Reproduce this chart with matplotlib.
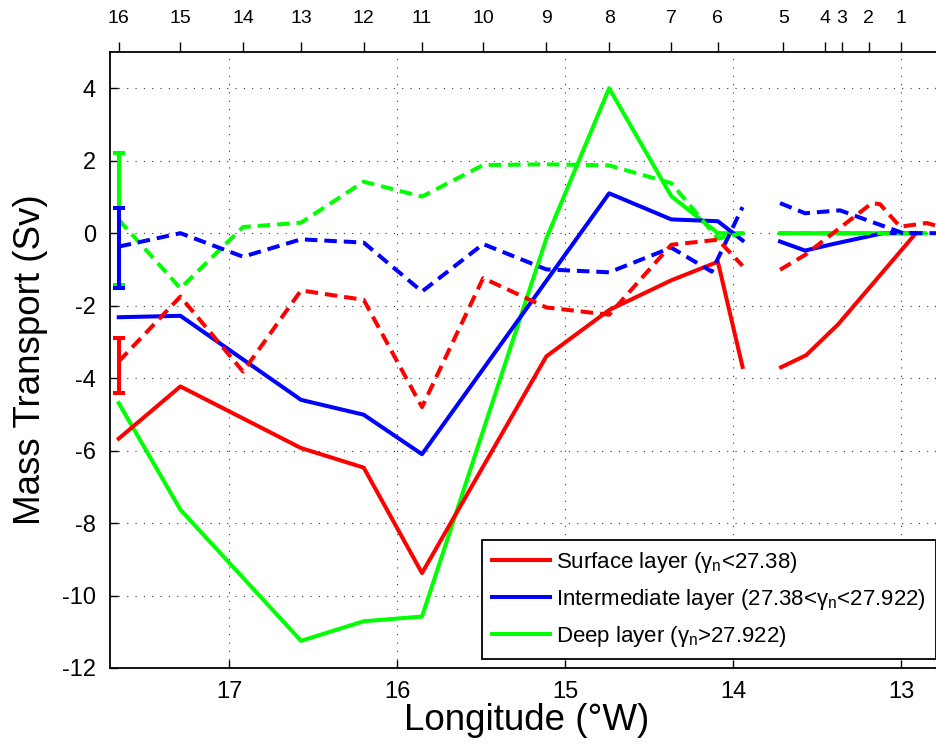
import numpy as np
import matplotlib
matplotlib.use("Agg")
import matplotlib.pyplot as plt
from matplotlib.lines import Line2D

plt.rcParams["font.family"] = ["Liberation Sans", "DejaVu Sans"]
plt.rcParams["mathtext.fontset"] = "custom"
plt.rcParams["mathtext.rm"] = "Liberation Sans"
plt.rcParams["mathtext.it"] = "Liberation Sans"
plt.rcParams["mathtext.bf"] = "Liberation Sans:bold"
plt.rcParams["lines.scale_dashes"] = False
plt.rcParams["axes.unicode_minus"] = False

nan = np.nan

# ---- station positions (top axis) ----
station_lon = [17.656, 17.289, 16.916, 16.571, 16.198, 15.851, 15.487, 15.111,
               14.737, 14.367, 14.090, 13.701, 13.455, 13.353, 13.193, 12.999]
station_num = [16, 15, 14, 13, 12, 11, 10, 9, 8, 7, 6, 5, 4, 3, 2, 1]

# ---- surface layer ----
surf_lon = [17.656, 17.289, 16.571, 16.198, 15.851, 15.111, 14.737, 14.367,
            14.090, 13.943, nan, 13.714, 13.565, 13.375, 12.911]
surf_total = [-5.67, -4.23, -5.93, -6.47, -9.38, -3.40, -2.12, -1.30,
              -0.79, -3.69, nan, -3.70, -3.37, -2.52, 0.0]

surf_d_lon = [17.656, 17.289, 16.916, 16.571, 16.198, 15.851, 15.487, 15.111,
              14.737, 14.367, 14.090, 13.943, nan, 13.720, 13.571, 13.173,
              13.125, 13.006, 12.847, 12.786]
surf_dashed = [-3.54, -1.75, -3.82, -1.58, -1.84, -4.80, -1.24, -2.05,
               -2.25, -0.32, -0.18, -0.90, nan, -1.01, -0.60, 0.83,
               0.80, 0.18, 0.28, 0.20]

# ---- intermediate layer ----
int_lon = [17.656, 17.289, 16.571, 16.198, 15.851, 14.737, 14.367, 14.090,
           13.943, nan, 13.720, 13.571, 13.405, 13.107, 12.911]
int_total = [-2.32, -2.28, -4.60, -5.01, -6.10, 1.10, 0.38, 0.33,
             -0.20, nan, -0.23, -0.48, -0.30, 0.0, 0.0]

int_d_lon = [17.656, 17.289, 16.916, 16.571, 16.198, 15.851, 15.487, 15.111,
             14.737, 14.367, 14.127, 13.943, nan, 13.720, 13.571, 13.363,
             12.988, 12.750]
int_dashed = [-0.37, 0.0, -0.65, -0.17, -0.26, -1.61, -0.30, -1.00,
              -1.08, -0.40, -1.06, 0.72, nan, 0.83, 0.55, 0.63,
              0.0, 0.0]

# ---- deep layer ----
deep_lon = [17.656, 17.289, 16.571, 16.198, 15.851, 15.111, 14.737, 14.367,
            14.090, 13.943, nan, 13.720, 12.857]
deep_total = [-4.69, -7.63, -11.25, -10.71, -10.58, -0.15, 4.00, 1.02,
              0.0, 0.0, nan, 0.0, 0.0]

deep_d_lon = [17.656, 17.289, 16.916, 16.571, 16.198, 15.851, 15.487, 15.111,
              14.737, 14.367, 14.090, 13.943, nan, 13.720, 12.857]
deep_dashed = [0.37, -1.52, 0.17, 0.29, 1.42, 1.01, 1.88, 1.90,
               1.87, 1.38, -0.15, 0.0, nan, 0.0, 0.0]

# ---- uncertainty bars at the western end (deep, intermediate, surface) ----
err_lon = 17.656
err_center = [0.39, -0.405, -3.655]
err_half = [1.82, 1.095, 0.755]

RED, BLUE, GREEN = "#ff0000", "#0000ff", "#00ff00"
LW = 2.9
DASH = (9.0, 5.0)

fig = plt.figure(figsize=(9.37, 7.46), dpi=100)
W, H = 937.0, 746.0
ax = fig.add_axes([110 / W, (H - 668) / H, (943 - 110) / W, (668 - 52) / H])

# solid lines
ax.plot(deep_lon, deep_total, color=GREEN, lw=LW, zorder=3)
ax.plot(int_lon, int_total, color=BLUE, lw=LW, zorder=3.1)
ax.plot(surf_lon, surf_total, color=RED, lw=LW, zorder=3.2)

# dashed lines
ax.plot(deep_d_lon, deep_dashed, color=GREEN, lw=LW, dashes=DASH, zorder=3.3)
ax.plot(int_d_lon, int_dashed, color=BLUE, lw=LW, dashes=DASH, zorder=3.4)
ax.plot(surf_d_lon, surf_dashed, color=RED, lw=LW, dashes=DASH, zorder=3.5)

# error bars
for k, (c, h, col) in enumerate(zip(err_center, err_half, [GREEN, BLUE, RED])):
    ax.errorbar([err_lon], [c], yerr=[h], fmt="none", ecolor=col,
                elinewidth=LW, capsize=4.5, capthick=LW, zorder=4 + 0.1 * k)

ax.set_xlim(17.708, 12.75)
ax.set_ylim(-12, 5)
ax.set_xticks([17, 16, 15, 14, 13])
ax.set_yticks(np.arange(-12, 5, 2))
ax.tick_params(direction="in", length=6, width=1.0, labelsize=17,
               top=True, right=True, pad=9)
ax.tick_params(axis="y", pad=10)
for s in ax.spines.values():
    s.set_linewidth(1.3)

ax.grid(True, color="#333333", linewidth=0.8, linestyle=(0, (0.8, 5.2)))
ax.set_axisbelow(True)

ax.set_xlabel("Longitude (°W)", fontsize=26.5, labelpad=0)
ax.set_ylabel("Mass Transport (Sv)", fontsize=26.5, labelpad=10)

# station numbers along the top
top = ax.twiny()
top.set_xlim(ax.get_xlim())
top.set_xticks(station_lon)
top.set_xticklabels([str(n) for n in station_num])
top.tick_params(axis="x", direction="out", length=7, width=1.0,
                labelsize=14, pad=11)
for s in top.spines.values():
    s.set_visible(False)

handles = [Line2D([], [], color=RED, lw=LW),
           Line2D([], [], color=BLUE, lw=LW),
           Line2D([], [], color=GREEN, lw=LW)]
labels = [r"Surface layer ($\gamma_n$<27.38)",
          r"Intermediate layer (27.38<$\gamma_n$<27.922)",
          r"Deep layer ($\gamma_n$>27.922)"]
leg = fig.legend(handles, labels, loc="lower right",
                 bbox_to_anchor=(936 / W, (H - 659) / H),
                 fontsize=16, frameon=True, fancybox=False,
                 edgecolor="black", framealpha=1, handlelength=2.6,
                 handletextpad=0.3, labelspacing=0.55, borderpad=0.45,
                 borderaxespad=0)
leg.get_frame().set_linewidth(1.3)

fig.savefig("out.png", dpi=100)
